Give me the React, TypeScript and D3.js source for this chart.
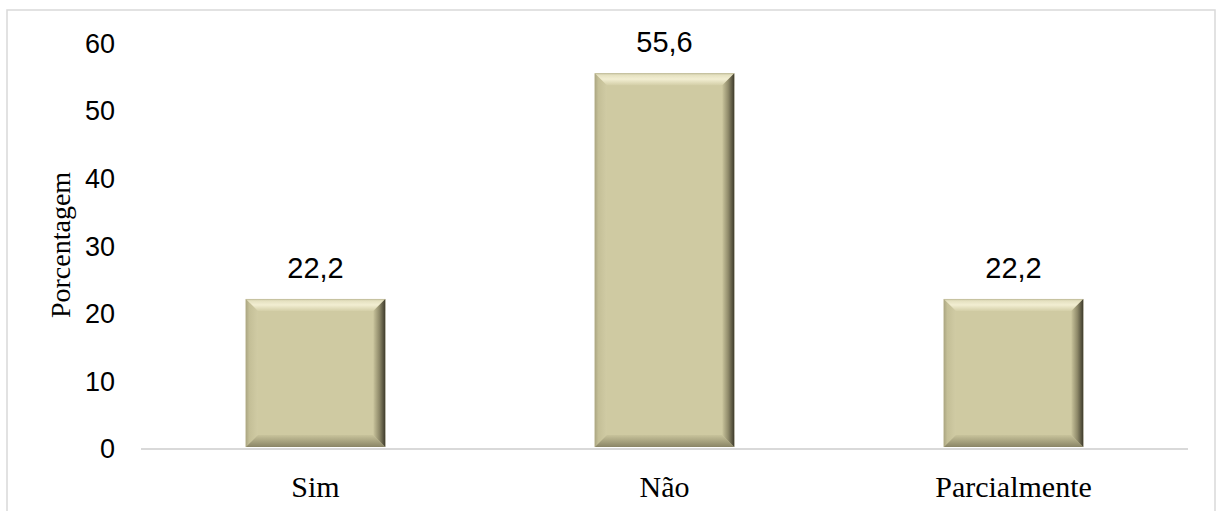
import React from "react";
import * as d3 from "d3";

const categories = ["Sim", "Não", "Parcialmente"];
const values = [22.2, 55.6, 22.2];
const valueLabels = ["22,2", "55,6", "22,2"];
const yTicks = [0, 10, 20, 30, 40, 50, 60];
const yTitle = "Porcentagem";

const W = 1217;
const H = 511;

export default function App() {
  const x = d3.scaleBand<string>().domain(categories).range([141, 1188]).paddingInner(0.6).paddingOuter(0.3);
  const y = d3.scaleLinear().domain([0, 60]).range([449, 43.4]);
  const b = 12;

  return (
    <svg width={W} height={H} style={{ position: "absolute", left: 0, top: 0, background: "#fff" }}>
      <defs>
        <linearGradient id="gTop" x1="0" y1="0" x2="0" y2="1">
          <stop offset="0" stopColor="#b9b593" />
          <stop offset="0.15" stopColor="#e4e0bf" />
          <stop offset="0.5" stopColor="#f2eed2" />
          <stop offset="1" stopColor="#d4cfa8" />
        </linearGradient>
        <linearGradient id="gRight" x1="0" y1="0" x2="1" y2="0">
          <stop offset="0" stopColor="#c9c49c" />
          <stop offset="0.5" stopColor="#8f8a6a" />
          <stop offset="1" stopColor="#3d3a2b" />
        </linearGradient>
        <linearGradient id="gBottom" x1="0" y1="0" x2="0" y2="1">
          <stop offset="0" stopColor="#c8c39b" />
          <stop offset="1" stopColor="#8a8566" />
        </linearGradient>
        <linearGradient id="gLeft" x1="0" y1="0" x2="1" y2="0">
          <stop offset="0" stopColor="#aaa581" />
          <stop offset="0.3" stopColor="#c4bf97" />
          <stop offset="1" stopColor="#d0cba4" />
        </linearGradient>
      </defs>
      <rect x={7} y={10} width={1208} height={520} fill="none" stroke="#d9d9d9" strokeWidth={1.5} />
      <line x1={141} x2={1188} y1={y(0)} y2={y(0)} stroke="#d9d9d9" strokeWidth={2} />
      {yTicks.map((t) => (
        <text key={t} x={115} y={y(t)} dy="0.35em" textAnchor="end" fontFamily="Liberation Sans, Arial, sans-serif" fontSize={27} fill="#000">
          {t}
        </text>
      ))}
      <text
        transform={`translate(60,${245}) rotate(-90)`}
        textAnchor="middle"
        dy="0.35em"
        fontFamily="Liberation Serif, Times New Roman, serif"
        fontSize={28}
        fill="#000"
      >
        {yTitle}
      </text>
      {categories.map((c, i) => {
        const x0 = x(c)!;
        const x1 = x0 + x.bandwidth();
        const y0 = y(values[i]);
        const y1 = y(0) - 2;
        const pts = (a: number[][]) => a.map((p) => p.join(",")).join(" ");
        return (
          <g key={c}>
            <rect x={x0} y={y0} width={x1 - x0} height={y1 - y0} fill="#cfcaa2" />
            <polygon points={pts([[x0, y0], [x1, y0], [x1 - b, y0 + b], [x0 + b, y0 + b]])} fill="url(#gTop)" />
            <polygon points={pts([[x0, y1], [x1, y1], [x1 - b, y1 - b], [x0 + b, y1 - b]])} fill="url(#gBottom)" />
            <polygon points={pts([[x0, y0], [x0 + b, y0 + b], [x0 + b, y1 - b], [x0, y1]])} fill="url(#gLeft)" />
            <polygon points={pts([[x1, y0], [x1, y1], [x1 - b, y1 - b], [x1 - b, y0 + b]])} fill="url(#gRight)" />
            <text x={(x0 + x1) / 2} y={y0 - 21} textAnchor="middle" fontFamily="Liberation Sans, Arial, sans-serif" fontSize={29} fill="#000">
              {valueLabels[i]}
            </text>
            <text x={(x0 + x1) / 2} y={497} textAnchor="middle" fontFamily="Liberation Serif, Times New Roman, serif" fontSize={30} fill="#000">
              {c}
            </text>
          </g>
        );
      })}
    </svg>
  );
}
